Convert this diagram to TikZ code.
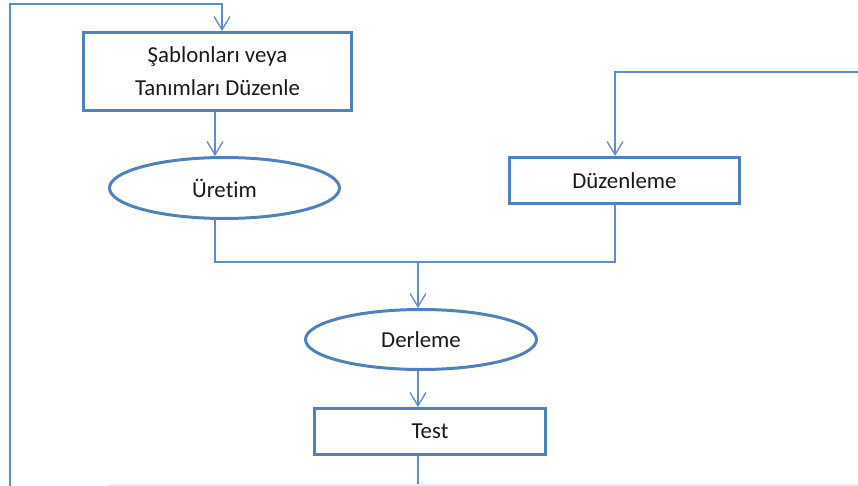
\documentclass[tikz,border=0pt]{standalone}
\usepackage{fontspec}
\setmainfont{Carlito}[Ligatures=NoCommon]
\usetikzlibrary{shapes.geometric,arrows.meta}
\definecolor{bordblue}{RGB}{79,129,189}
\definecolor{lineblue}{RGB}{96,141,200}
\tikzset{
	box/.style={draw=bordblue, line width=1.7pt, rectangle, inner sep=0pt, align=center,
		font=\fontsize{13}{18.7}\selectfont, text=black!90},
	oval/.style={draw=bordblue, line width=1.7pt, ellipse, inner sep=0pt,
		font=\fontsize{13}{18.7}\selectfont, text=black!90},
	flow/.style={draw=lineblue, line width=0.75pt},
	tip/.style={-{Straight Barb[length=7.5pt,width=9pt,line width=0.75pt]}}
}

\begin{document}
\begin{tikzpicture}[x=0.02cm, y=-0.02cm]
			%%%%% START %%%%%
			\useasboundingbox (0,0) rectangle (858,486);
			
			\node[box, minimum width=5.36cm, minimum height=1.56cm] (sablon) at (217.5,71.5) {Şablonları veya\\Tanımları Düzenle};
			\node[oval, minimum width=4.6cm, minimum height=1.22cm] (uretim) at (224.5,188) {Üretim};
			\node[box, minimum width=4.6cm, minimum height=0.92cm] (duzen) at (624.5,180.5) {Düzenleme};
			\node[oval, minimum width=4.62cm, minimum height=1.2cm] (derle) at (421,339.5) {Derleme};
			\node[box, minimum width=4.62cm, minimum height=0.92cm] (test) at (430,431.5) {Test};
			
			% columns of the connectors
			\coordinate (colA) at (215,0);
			\coordinate (colB) at (418,0);
			\coordinate (colC) at (615,0);
			\coordinate (colT) at (222,0);
			
			\coordinate (loopIn) at (10,486);
			\coordinate (loopTop) at (10,4);
			\coordinate (rightIn) at (858,72);
			\coordinate (merge) at (418,262);
			\coordinate (testOut) at (418,486);
			
			% back loop to the first box
			\draw[flow, tip] (loopIn) -- (loopTop) -- (loopTop -| colT) -- (sablon.north -| colT);
			\draw[flow, tip] (sablon.south -| colA) -- (uretim.north -| colA);
			\draw[flow, tip] (rightIn) -| (duzen.north -| colC);
			
			% merge into Derleme
			\draw[flow] (uretim.south -| colA) -- (colA |- merge) -- (colC |- merge) -- (duzen.south -| colC);
			\draw[flow, tip] (merge) -- (derle.north -| colB);
			\draw[flow, tip] (derle.south -| colB) -- (test.north -| colB);
			\draw[flow] (test.south -| colB) -- (testOut);
			
			\draw[line width=0.8pt, color=lineblue!15] (109,485) -- (858,485);
			%%%%% END %%%%%
\end{tikzpicture}
\end{document}
